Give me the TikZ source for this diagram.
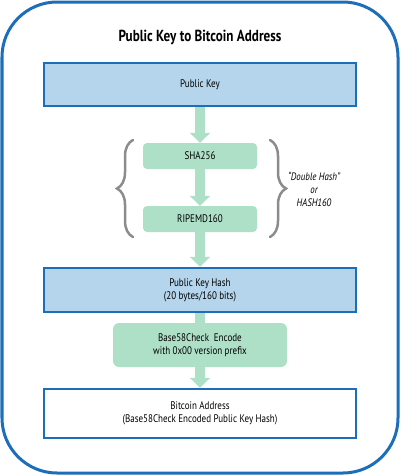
\documentclass[tikz,border=0pt]{standalone}
\usepackage{fontspec}
\setmainfont{PT Sans}[FakeStretch=0.82]
\usetikzlibrary{arrows.meta,decorations.pathreplacing}
\definecolor{frameblue}{HTML}{1C6EB9}
\definecolor{lightblue}{HTML}{B4D5EB}
\definecolor{mint}{HTML}{AEE0C8}
\definecolor{bracegrey}{HTML}{8C8C8C}
\tikzset{
  bluebox/.style={draw=frameblue, line width=2.5pt, fill=lightblue, minimum width=312pt, align=center, font=\fontsize{11}{12.8}\selectfont, inner sep=0pt},
  whitebox/.style={bluebox, fill=white},
  greenbox/.style={fill=mint, rounded corners=4pt, align=center, font=\fontsize{11}{12.8}\selectfont, inner sep=0pt},
  flow/.style={draw=mint, line width=10pt, -{Triangle[width=20pt,length=10pt]}},
  flowplain/.style={draw=mint, line width=10pt},
  hashbrace/.style={draw=bracegrey, line width=2.5pt, line cap=round, decorate, decoration={brace, amplitude=16pt}},
}
\begin{document}
\begin{tikzpicture}[x=1pt,y=-1pt]
\useasboundingbox (0,0) rectangle (400,475);
\draw[frameblue, line width=3pt, rounded corners=55pt] (2,2) rectangle (398,473);
\node[font=\fontsize{16}{19}\selectfont\bfseries] (title) at (200,37) {Public Key to Bitcoin Address};

\node[bluebox, minimum height=43pt] (pk) at (200,84.5) {Public Key};
\node[greenbox, minimum width=114pt, minimum height=26pt] (sha) at (200,156) {SHA256};
\node[greenbox, minimum width=114pt, minimum height=26pt] (ripe) at (200,219) {RIPEMD160};
\node[bluebox, minimum height=44pt] (pkh) at (200,290) {Public Key Hash\\(20 bytes/160 bits)};
\node[greenbox, rounded corners=6pt, minimum width=174pt, minimum height=44pt] (b58) at (200,345) {Base58Check\ \ Encode\\with 0x00 version prefix};
\node[whitebox, minimum height=49pt] (addr) at (200,413.5) {Bitcoin Address\\(Base58Check Encoded Public Key Hash)};

\draw[flow] (pk.south) -- (sha.north);
\draw[flow] (sha.south) -- (ripe.north);
\draw[flow] (ripe.south) -- (pkh.north);
\draw[flowplain] (pkh.south) -- (b58.north);
\draw[flow] (b58.south) -- (addr.north);

\coordinate (lb1) at (133,237);
\coordinate (lb2) at (133,140);
\coordinate (rb1) at (270,140);
\coordinate (rb2) at (270,237);
\draw[hashbrace] (lb1) -- (lb2);
\draw[hashbrace] (rb1) -- (rb2);

\node[align=center, font=\fontsize{10.8}{13}\selectfont\itshape] (dh) at (314,189) {“Double Hash”\\or\\HASH160};
\end{tikzpicture}
\end{document}
